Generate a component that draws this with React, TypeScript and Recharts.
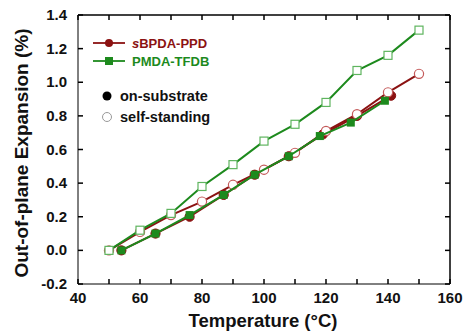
import React from "react";
import { ComposedChart, Scatter, XAxis, YAxis, ReferenceLine } from "recharts";

// temperatures (°C) and out-of-plane expansion (%)
const bpdaSubT = [54, 65, 76, 87, 97, 108, 119, 130, 141];
const bpdaSubV = [0.0, 0.1, 0.2, 0.33, 0.45, 0.56, 0.69, 0.8, 0.92];
const bpdaFreeT = [50, 60, 70, 80, 90, 100, 110, 120, 130, 140, 150];
const bpdaFreeV = [0.0, 0.11, 0.21, 0.29, 0.39, 0.48, 0.58, 0.71, 0.81, 0.94, 1.05];
const pmdaSubT = [54, 65, 76, 87, 97, 108, 118, 128, 139];
const pmdaSubV = [0.0, 0.1, 0.21, 0.33, 0.45, 0.56, 0.68, 0.76, 0.89];
const pmdaFreeT = [50, 60, 70, 80, 90, 100, 110, 120, 130, 140, 150];
const pmdaFreeV = [0.0, 0.12, 0.22, 0.38, 0.51, 0.65, 0.75, 0.88, 1.07, 1.16, 1.31];

const xTicks = [40, 50, 60, 70, 80, 90, 100, 110, 120, 130, 140, 150, 160];
const yTicks = [-0.2, 0, 0.2, 0.4, 0.6, 0.8, 1.0, 1.2, 1.4];

const RED = "#8b1212";
const GREEN = "#1d8a1d";
const FONT = "'Liberation Sans', Arial, sans-serif";
const W = 470;
const H = 334;
const TOP = 15;
const RIGHT = 20;
const TICK_LEN = 5;
const OFFSET = 8; // default tickSize + tickMargin

const toPoints = (ts: number[], vs: number[]) => ts.map((t, i) => ({ t, v: vs[i] }));

const filledCircle = (p: any) => <circle cx={p.cx} cy={p.cy} r={4.6} fill={RED} stroke={RED} />;
const openCircle = (p: any) => (
  <circle cx={p.cx} cy={p.cy} r={4.6} fill="#fff" stroke="#c45a5a" strokeWidth={1.2} />
);
const filledSquare = (p: any) => (
  <rect x={p.cx - 4} y={p.cy - 4} width={8} height={8} fill={GREEN} />
);
const openSquare = (p: any) => (
  <rect x={p.cx - 4} y={p.cy - 4} width={8} height={8} fill="#fff" stroke="#5fb55f" strokeWidth={1.2} />
);

const labelProps = { fontFamily: FONT, fontSize: 15, fontWeight: "bold", fill: "#111" };

// inward ticks on both opposite sides, drawn with the labels
const BottomTick = (p: any) => {
  const bottom = p.y - OFFSET;
  const x = p.payload.coordinate;
  const v = p.payload.value;
  return (
    <g>
      <line x1={x} x2={x} y1={bottom} y2={bottom - TICK_LEN} stroke="black" strokeWidth={1.5} />
      <line x1={x} x2={x} y1={TOP} y2={TOP + TICK_LEN} stroke="black" strokeWidth={1.5} />
      {v % 20 === 0 ? (
        <text x={x} y={bottom + 19} textAnchor="middle" {...labelProps}>
          {v}
        </text>
      ) : null}
    </g>
  );
};
const LeftTick = (p: any) => {
  const left = p.x + OFFSET;
  const right = W - RIGHT;
  const y = p.payload.coordinate;
  return (
    <g>
      <line x1={left} x2={left + TICK_LEN} y1={y} y2={y} stroke="black" strokeWidth={1.5} />
      <line x1={right} x2={right - TICK_LEN} y1={y} y2={y} stroke="black" strokeWidth={1.5} />
      <text x={left - 11} y={y + 5} textAnchor="end" {...labelProps}>
        {p.payload.value.toFixed(1)}
      </text>
    </g>
  );
};

const LegendBox = () => (
  <svg
    width={140}
    height={100}
    style={{ position: "absolute", left: 88, top: 30, fontFamily: FONT, fontWeight: "bold" }}
  >
    <line x1={5} y1={13} x2={37} y2={13} stroke={RED} strokeWidth={1.8} />
    <circle cx={21} cy={13} r={4} fill={RED} />
    <text x={44} y={18} fontSize={13} fill={RED}>
      <tspan fontStyle="italic">s</tspan>BPDA-PPD
    </text>
    <line x1={5} y1={31} x2={37} y2={31} stroke={GREEN} strokeWidth={1.8} />
    <rect x={17} y={27} width={8} height={8} fill={GREEN} />
    <text x={44} y={36} fontSize={13} fill={GREEN}>PMDA-TFDB</text>
    <circle cx={19} cy={66} r={4.5} fill="#000" />
    <text x={32} y={71} fontSize={14.5} fill="#111">on-substrate</text>
    <circle cx={19} cy={87} r={4.5} fill="#fff" stroke="#999" strokeWidth={1} />
    <text x={32} y={92} fontSize={14.5} fill="#111">self-standing</text>
  </svg>
);

export default function App() {
  return (
    <div style={{ position: "absolute", left: 0, top: 0, width: W, height: H, background: "#fff", overflow: "hidden" }}>
      <ComposedChart width={W} height={H} margin={{ top: TOP, right: RIGHT, bottom: 0, left: 30 }}>
        <XAxis
          dataKey="t"
          type="number"
          domain={[40, 160]}
          ticks={xTicks}
          interval={0}
          height={50}
          stroke="black"
          tickLine={false}
          tick={BottomTick}
        />
        <YAxis
          dataKey="v"
          type="number"
          domain={[-0.2, 1.4]}
          ticks={yTicks}
          interval={0}
          width={48}
          stroke="black"
          tickLine={false}
          tick={LeftTick}
        />
        <ReferenceLine y={1.4} stroke="black" strokeWidth={1.5} />
        <ReferenceLine x={160} stroke="black" strokeWidth={1.5} />
        <Scatter
          data={toPoints(bpdaSubT, bpdaSubV)}
          line={{ stroke: RED, strokeWidth: 2 }}
          shape={filledCircle}
          isAnimationActive={false}
        />
        <Scatter
          data={toPoints(bpdaFreeT, bpdaFreeV)}
          line={{ stroke: RED, strokeWidth: 2 }}
          shape={openCircle}
          isAnimationActive={false}
        />
        <Scatter
          data={toPoints(pmdaSubT, pmdaSubV)}
          line={{ stroke: GREEN, strokeWidth: 2 }}
          shape={filledSquare}
          isAnimationActive={false}
        />
        <Scatter
          data={toPoints(pmdaFreeT, pmdaFreeV)}
          line={{ stroke: GREEN, strokeWidth: 2 }}
          shape={openSquare}
          isAnimationActive={false}
        />
      </ComposedChart>
      <LegendBox />
      <div
        style={{
          position: "absolute",
          left: 113,
          top: 310,
          width: 300,
          textAlign: "center",
          fontFamily: FONT,
          fontWeight: "bold",
          fontSize: 18.5,
          color: "#111",
        }}
      >
        Temperature (°C)
      </div>
      <div
        style={{
          position: "absolute",
          left: 22,
          top: 153,
          transform: "translate(-50%, -50%) rotate(-90deg)",
          whiteSpace: "nowrap",
          fontFamily: FONT,
          fontWeight: "bold",
          fontSize: 19,
          color: "#111",
        }}
      >
        Out-of-plane Expansion (%)
      </div>
    </div>
  );
}
